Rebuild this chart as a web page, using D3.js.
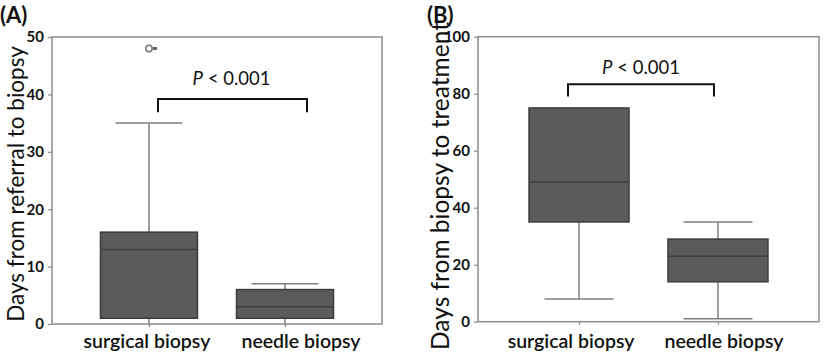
<!DOCTYPE html>
<html><head><meta charset="utf-8">
<script src="https://cdn.jsdelivr.net/npm/d3@7"></script>
<style>body{margin:0;background:#fff}svg{display:block}</style>
</head><body>
<svg id="c" width="825" height="355"></svg>
<script>
const categories = ["surgical biopsy", "needle biopsy"];
// Panel A: days from referral to biopsy
const aMin = [0, 0], aQ1 = [1, 1], aMed = [13, 3], aQ3 = [16, 6], aMax = [35, 7];
const aOutliers = [[48], []];
const aTicks = [0, 10, 20, 30, 40, 50];
// Panel B: days from biopsy to treatment
const bMin = [8, 1], bQ1 = [35, 14], bMed = [49, 23], bQ3 = [75, 29], bMax = [75, 35];
const bOutliers = [[], []];
const bTicks = [0, 20, 40, 60, 80, 100];

const svg = d3.select("#c");
const FONT = "Lato, 'Open Sans', sans-serif";

function panel(o) {
  const g = svg.append("g");
  const x = d3.scalePoint().domain(categories).range([o.left, o.right]).padding(o.pad);
  const y = d3.scaleLinear().domain([0, o.ymax]).range([o.bottom, o.top]);
  const bw = o.boxW;
  // frame
  g.append("rect").attr("x", o.left).attr("y", o.top)
    .attr("width", o.right - o.left).attr("height", o.bottom - o.top)
    .attr("fill", "none").attr("stroke", "#8c8c8c").attr("stroke-width", 1.5);
  // y axis
  const ya = g.append("g").attr("transform", `translate(${o.left},0)`)
    .call(d3.axisLeft(y).tickValues(o.ticks).tickSize(4).tickPadding(4));
  ya.select(".domain").remove();
  ya.selectAll("line").attr("stroke", "#8c8c8c").attr("stroke-width", 1.2);
  ya.selectAll("text").attr("font-family", FONT).attr("font-size", 15)
    .attr("font-weight", "bold").attr("fill", "#111");
  // x ticks
  const xa = g.append("g").attr("transform", `translate(0,${o.bottom})`)
    .call(d3.axisBottom(x).tickSize(3).tickFormat(""));
  xa.select(".domain").remove();
  xa.selectAll("line").attr("stroke", "#8c8c8c").attr("stroke-width", 1.2);
  // x labels
  categories.forEach((c, i) => {
    g.append("text").attr("x", x(c) + o.labelDx[i]).attr("y", 348)
      .attr("text-anchor", "middle").attr("font-family", FONT)
      .attr("font-size", 19.5).attr("font-weight", 600).attr("fill", "#111").text(c);
  });
  // boxes
  categories.forEach((c, i) => {
    const cx = x(c);
    const wc = "#7f7f7f";
    g.append("line").attr("x1", cx).attr("x2", cx).attr("y1", y(o.q3[i])).attr("y2", y(o.max[i]))
      .attr("stroke", wc).attr("stroke-width", 1.5);
    g.append("line").attr("x1", cx).attr("x2", cx).attr("y1", y(o.q1[i])).attr("y2", y(o.min[i]))
      .attr("stroke", wc).attr("stroke-width", 1.5);
    const cw = bw * 0.69;
    if (o.max[i] > o.q3[i])
      g.append("line").attr("x1", cx - cw / 2).attr("x2", cx + cw / 2).attr("y1", y(o.max[i])).attr("y2", y(o.max[i]))
        .attr("stroke", wc).attr("stroke-width", 1.5);
    if (o.min[i] > 0)
      g.append("line").attr("x1", cx - cw / 2).attr("x2", cx + cw / 2).attr("y1", y(o.min[i])).attr("y2", y(o.min[i]))
        .attr("stroke", wc).attr("stroke-width", 1.5);
    g.append("rect").attr("x", cx - bw / 2).attr("y", y(o.q3[i]))
      .attr("width", bw).attr("height", y(o.q1[i]) - y(o.q3[i]))
      .attr("fill", "#5b5b5b").attr("stroke", "#3c3c3c").attr("stroke-width", 1.5);
    g.append("line").attr("x1", cx - bw / 2).attr("x2", cx + bw / 2).attr("y1", y(o.med[i])).attr("y2", y(o.med[i]))
      .attr("stroke", "#3e3e3e").attr("stroke-width", 1.5);
    o.out[i].forEach(v => {
      g.append("circle").attr("cx", cx).attr("cy", y(v)).attr("r", 3.2)
        .attr("fill", "#fff").attr("stroke", "#777").attr("stroke-width", 1.5);
      g.append("rect").attr("x", cx + 4).attr("y", y(v) - 1.5).attr("width", 4).attr("height", 3).attr("fill", "#666");
    });
  });
  // bracket
  const bl = x(categories[0]) + o.brL, br = x(categories[1]) + o.brR;
  g.append("path").attr("d", `M${bl},${y(o.brLow)}V${y(o.brTop)}H${br}V${y(o.brLow)}`)
    .attr("fill", "none").attr("stroke", "#111").attr("stroke-width", 2);
  const t = g.append("text").attr("x", (bl + br) / 2 + o.pDx).attr("y", o.pY)
    .attr("text-anchor", "middle").attr("font-family", FONT).attr("font-size", 18.5).attr("fill", "#111");
  t.append("tspan").attr("font-style", "italic").text("P");
  t.append("tspan").text(" < 0.001");
  // y title
  g.append("text").attr("transform", `translate(${o.titleX},${o.titleY}) rotate(-90)`)
    .attr("text-anchor", "middle").attr("font-family", FONT).attr("font-size", o.titleSize)
    .attr("fill", "#111").text(o.title);
  // panel letter
  g.append("text").attr("x", o.letterX).attr("y", 23).attr("font-family", FONT)
    .attr("font-size", 22).attr("font-weight", "bold").attr("fill", "#111").text(o.letter);
}

panel({left: 52, right: 382, top: 37, bottom: 324, pad: 0.713, ymax: 50, ticks: aTicks, boxW: 97,
  min: aMin, q1: aQ1, med: aMed, q3: aQ3, max: aMax, out: aOutliers,
  labelDx: [-2, 16], brL: 9, brR: 22, brLow: 36.9, brTop: 39.2, pY: 85, pDx: -1,
  title: "Days from referral to biopsy", titleX: 23.5, titleY: 184, titleSize: 22.5, letter: "(A)", letterX: 0});
panel({left: 478, right: 819, top: 36.7, bottom: 321.7, pad: 0.727, ymax: 100, ticks: bTicks, boxW: 100,
  min: bMin, q1: bQ1, med: bMed, q3: bQ3, max: bMax, out: bOutliers,
  labelDx: [-8, 6], brL: -11, brR: -4, brLow: 79, brTop: 83.3, pY: 74, pDx: 0,
  title: "Days from biopsy to treatment", titleX: 449, titleY: 186, titleSize: 24.5, letter: "(B)", letterX: 427});
</script>
</body></html>
